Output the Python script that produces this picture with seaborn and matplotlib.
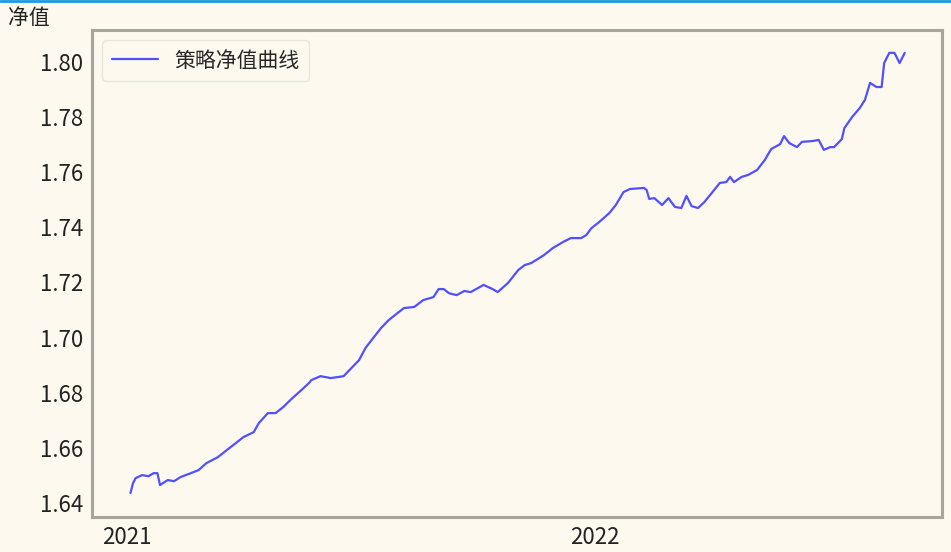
import pandas as pd
import seaborn as sns
import matplotlib.pyplot as plt
import matplotlib.dates as mdates
from matplotlib.lines import Line2D

# net value curve
dates = [
    "2021-01-04", "2021-01-06", "2021-01-08", "2021-01-13", "2021-01-18", "2021-01-22",
    "2021-01-25", "2021-01-27", "2021-02-02", "2021-02-07", "2021-02-12", "2021-02-20",
    "2021-02-26", "2021-03-04", "2021-03-13", "2021-03-22", "2021-03-27", "2021-04-02",
    "2021-04-10", "2021-04-14", "2021-04-21", "2021-04-27", "2021-05-03", "2021-05-10",
    "2021-05-17", "2021-05-23", "2021-05-25", "2021-06-01", "2021-06-09", "2021-06-19",
    "2021-06-25", "2021-07-01", "2021-07-06", "2021-07-12", "2021-07-18", "2021-07-24",
    "2021-07-31", "2021-08-05", "2021-08-13", "2021-08-20", "2021-08-28", "2021-09-01",
    "2021-09-05", "2021-09-09", "2021-09-15", "2021-09-21", "2021-09-26", "2021-10-06",
    "2021-10-13", "2021-10-17", "2021-10-25", "2021-11-02", "2021-11-07", "2021-11-12",
    "2021-11-22", "2021-11-29", "2021-12-07", "2021-12-13", "2021-12-21", "2021-12-25",
    "2021-12-29", "2022-01-04", "2022-01-12", "2022-01-17", "2022-01-23", "2022-01-28",
    "2022-02-08", "2022-02-10", "2022-02-12", "2022-02-16", "2022-02-22", "2022-02-27",
    "2022-03-04", "2022-03-09", "2022-03-13", "2022-03-17", "2022-03-22", "2022-03-27",
    "2022-04-03", "2022-04-08", "2022-04-13", "2022-04-16", "2022-04-19", "2022-04-25",
    "2022-04-30", "2022-05-07", "2022-05-13", "2022-05-18", "2022-05-25", "2022-05-28",
    "2022-06-01", "2022-06-07", "2022-06-11", "2022-06-19", "2022-06-24", "2022-06-28",
    "2022-07-03", "2022-07-06", "2022-07-12", "2022-07-14", "2022-07-20", "2022-07-26",
    "2022-07-30", "2022-08-03", "2022-08-08", "2022-08-12", "2022-08-14", "2022-08-18",
    "2022-08-22", "2022-08-26", "2022-08-30",
]
net_value = [
    1.6436, 1.6472, 1.6490, 1.6501, 1.6497, 1.6508,
    1.6508, 1.6465, 1.6483, 1.6479, 1.6494, 1.6508,
    1.6519, 1.6544, 1.6566, 1.6599, 1.6617, 1.6639,
    1.6657, 1.6690, 1.6726, 1.6726, 1.6748, 1.6780,
    1.6809, 1.6835, 1.6846, 1.6860, 1.6853, 1.6860,
    1.6889, 1.6918, 1.6962, 1.6998, 1.7034, 1.7063,
    1.7089, 1.7107, 1.7111, 1.7136, 1.7147, 1.7176,
    1.7176, 1.7161, 1.7154, 1.7169, 1.7165, 1.7191,
    1.7176, 1.7165, 1.7198, 1.7245, 1.7263, 1.7270,
    1.7299, 1.7325, 1.7347, 1.7361, 1.7361, 1.7372,
    1.7397, 1.7419, 1.7452, 1.7481, 1.7528, 1.7539,
    1.7543, 1.7535, 1.7503, 1.7506, 1.7481, 1.7506,
    1.7474, 1.7470, 1.7514, 1.7477, 1.7470, 1.7492,
    1.7532, 1.7561, 1.7564, 1.7583, 1.7564, 1.7583,
    1.7590, 1.7608, 1.7644, 1.7684, 1.7702, 1.7731,
    1.7706, 1.7691, 1.7710, 1.7713, 1.7717, 1.7681,
    1.7691, 1.7691, 1.7720, 1.7760, 1.7800, 1.7833,
    1.7862, 1.7924, 1.7909, 1.7909, 1.7996, 1.8033,
    1.8033, 1.7996, 1.8033,
]
y_ticks = [1.64, 1.66, 1.68, 1.70, 1.72, 1.74, 1.76, 1.78, 1.80]
series_name = "策略净值曲线"

bg = "#fdf9ef"
frame = "#a8a59c"

sns.set_style("white")
plt.rcParams['font.family'] = ['Noto Sans CJK SC', 'DejaVu Sans']
plt.rcParams['axes.unicode_minus'] = False

df = pd.DataFrame({"date": pd.to_datetime(dates), "value": net_value})

fig = plt.figure(figsize=(9.51, 5.52), dpi=100, facecolor=bg)
ax = fig.add_axes([0.0967, 0.0634, 0.8938, 0.8823])
ax.set_facecolor(bg)

sns.lineplot(data=df, x="date", y="value", ax=ax, color="#5050ff",
             linewidth=1.6, label=series_name)

ax.set_xlim(pd.Timestamp("2020-12-05"), pd.Timestamp("2022-09-28"))
ax.set_ylim(1.6349, 1.8116)
ax.set_yticks(y_ticks)
ax.set_yticklabels([f"{v:.2f}" for v in y_ticks])
ax.xaxis.set_major_locator(mdates.YearLocator())
ax.xaxis.set_major_formatter(mdates.DateFormatter("%Y"))
ax.tick_params(axis="both", labelsize=16, colors="#222222", length=3,
               color="#888888", width=1)

ax.set_xlabel("")
ax.set_ylabel("净值", rotation=0, fontsize=15, color="#222222",
              va="center", ha="center")
ax.yaxis.set_label_coords(-0.074, 1.025)

for side in ["top", "bottom", "left", "right"]:
    ax.spines[side].set_visible(True)
    ax.spines[side].set_color(frame)
    ax.spines[side].set_linewidth(2.2)

leg = ax.legend(loc="upper left", fontsize=15, frameon=True, fancybox=True,
                facecolor=bg, edgecolor="#e2e0da", handlelength=2.2,
                borderpad=0.45)
leg.get_frame().set_linewidth(1.0)

# thin blue bar along the top edge of the original screenshot
fig.add_artist(Line2D([0, 1], [0.998, 0.998], transform=fig.transFigure,
                      color="#1a9be0", linewidth=2))

fig.savefig("out.png", dpi=100, facecolor=bg)
